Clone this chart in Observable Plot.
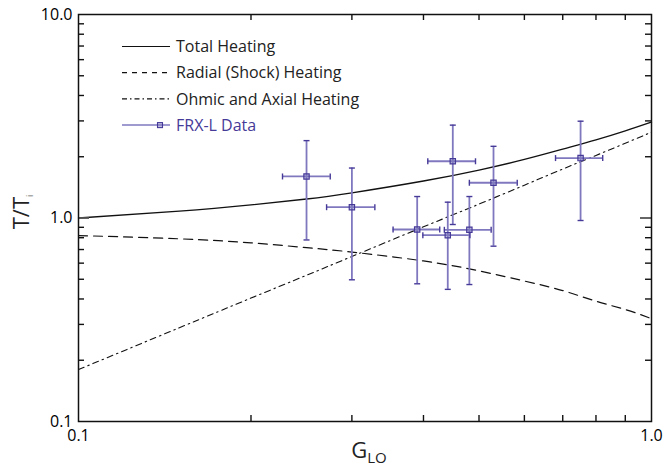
<!DOCTYPE html>
<html>
<head>
<meta charset="utf-8">
<script src="https://cdn.jsdelivr.net/npm/d3@7"></script>
<script src="https://cdn.jsdelivr.net/npm/@observablehq/plot@0.6"></script>
<style>
  html, body { margin: 0; padding: 0; background: #fff; }
  #chart svg { display: block; }
</style>
</head>
<body>
<div id="chart"></div>
<script>
// ---- Model curves ----
const gCurve = [0.1, 0.15, 0.2, 0.25, 0.3, 0.4, 0.5, 0.6, 0.7, 0.8, 0.9, 1.0];
const totalHeating = [1.00, 1.08, 1.16, 1.24, 1.33, 1.52, 1.72, 1.94, 2.18, 2.42, 2.68, 2.96];
const radialHeating = [0.82, 0.79, 0.755, 0.715, 0.68, 0.615, 0.55, 0.49, 0.44, 0.39, 0.355, 0.32];
const ohmicHeating = [0.18, 0.289, 0.404, 0.523, 0.647, 0.905, 1.17, 1.45, 1.74, 2.03, 2.33, 2.64];

// ---- FRX-L data with error bars ----
const gData = [0.250, 0.300, 0.390, 0.441, 0.481, 0.450, 0.530, 0.752];
const gLow  = [0.227, 0.271, 0.354, 0.399, 0.435, 0.407, 0.481, 0.680];
const gHigh = [0.275, 0.329, 0.427, 0.482, 0.525, 0.493, 0.583, 0.822];
const tData = [1.60, 1.13, 0.878, 0.823, 0.875, 1.90, 1.49, 1.97];
const tLow  = [0.78, 0.497, 0.475, 0.446, 0.471, 0.929, 0.727, 0.972];
const tHigh = [2.40, 1.76, 1.275, 1.196, 1.275, 2.86, 2.25, 2.99];

// ---- Ticks ----
const xTickLabels = [0.1, 1.0];
const yTickLabels = [0.1, 1.0, 10.0];
const xMinorTicks = [0.2, 0.3, 0.4, 0.5, 0.6, 0.7, 0.8, 0.9];
const yMinorTicks = [0.2, 0.3, 0.4, 0.5, 0.6, 0.7, 0.8, 0.9, 2, 3, 4, 5, 6, 7, 8, 9];
const yMajorTicks = [1.0];
const xDomain = [0.1, 1.0];
const yDomain = [0.1, 10.0];

const curves = gCurve.map((g, i) => ({g, total: totalHeating[i], radial: radialHeating[i], ohmic: ohmicHeating[i]}));
const points = gData.map((g, i) => ({g, gLo: gLow[i], gHi: gHigh[i], t: tData[i], tLo: tLow[i], tHi: tHigh[i]}));

const W = 665, H = 470;
const mL = 78, mR = 14, mT = 14, mB = 49;
const PW = W - mL - mR, PH = H - mT - mB;

const purple = "#463a98";
const barColor = "#7f78bf";
const FONT = "'Open Sans', 'DejaVu Sans', sans-serif";

const capH = {draw(ctx, size) { const r = Math.sqrt(size / Math.PI); ctx.moveTo(-r, 0); ctx.lineTo(r, 0); }};
const capV = {draw(ctx, size) { const r = Math.sqrt(size / Math.PI); ctx.moveTo(0, -r); ctx.lineTo(0, r); }};

const tickStyle = {stroke: "#111", strokeWidth: 1.4};

const chart = Plot.plot({
  width: W, height: H,
  marginLeft: mL, marginRight: mR, marginTop: mT, marginBottom: mB,
  style: {fontFamily: FONT, fontSize: "16px"},
  x: {type: "log", domain: xDomain, label: null},
  y: {type: "log", domain: yDomain, label: null},
  marks: [
    // model curves
    Plot.line(curves, {x: "g", y: "total", curve: "natural", stroke: "#111", strokeWidth: 1.3}),
    Plot.line(curves, {x: "g", y: "radial", curve: "natural", stroke: "#111", strokeWidth: 1.2, strokeDasharray: "9,6"}),
    Plot.line(curves, {x: "g", y: "ohmic", curve: "natural", stroke: "#111", strokeWidth: 1.1, strokeDasharray: "6,4,1.5,4"}),
    // error bars
    Plot.ruleX(points, {x: "g", y1: "tLo", y2: "tHi", stroke: barColor, strokeWidth: 1.8}),
    Plot.ruleY(points, {y: "t", x1: "gLo", x2: "gHi", stroke: barColor, strokeWidth: 1.8}),
    Plot.dot(points, {x: "g", y: "tHi", symbol: capH, r: 3, stroke: purple, strokeWidth: 1.4}),
    Plot.dot(points, {x: "g", y: "tLo", symbol: capH, r: 3, stroke: purple, strokeWidth: 1.4}),
    Plot.dot(points, {x: "gLo", y: "t", symbol: capV, r: 3, stroke: purple, strokeWidth: 1.4}),
    Plot.dot(points, {x: "gHi", y: "t", symbol: capV, r: 3, stroke: purple, strokeWidth: 1.4}),
    Plot.dot(points, {x: "g", y: "t", symbol: "square", r: 3, stroke: purple, strokeWidth: 1.2, fill: barColor, fillOpacity: 0.45}),
    // inward ticks on all four sides
    Plot.ruleX(xMinorTicks, {x: d => d, insetTop: PH - 6, ...tickStyle}),
    Plot.ruleX(xMinorTicks, {x: d => d, insetBottom: PH - 6, ...tickStyle}),
    Plot.ruleY(yMinorTicks, {y: d => d, insetRight: PW - 6, ...tickStyle}),
    Plot.ruleY(yMinorTicks, {y: d => d, insetLeft: PW - 6, ...tickStyle}),
    Plot.ruleY(yMajorTicks, {y: d => d, insetRight: PW - 11, stroke: "#555", strokeWidth: 1.8}),
    Plot.ruleY(yMajorTicks, {y: d => d, insetLeft: PW - 11, stroke: "#555", strokeWidth: 1.8}),
    // axes
    Plot.axisX({ticks: xTickLabels, tickFormat: d => d.toFixed(1), tickSize: 0, tickPadding: 8, label: null}),
    Plot.axisY({ticks: yTickLabels, tickFormat: d => d.toFixed(1), tickSize: 0, tickPadding: 6, label: null}),
    Plot.frame({stroke: "#111", strokeWidth: 1.5})
  ]
});

document.getElementById("chart").appendChild(chart);

// ---- Legend and axis titles ----
const svg = d3.select(chart);
const legendItems = [
  {label: "Total Heating", dash: null, color: "#111"},
  {label: "Radial (Shock) Heating", dash: "5,5", color: "#111"},
  {label: "Ohmic and Axial Heating", dash: "5,3,1.5,3", color: "#111"},
  {label: "FRX-L Data", dash: null, color: purple, marker: true}
];
const lg = svg.append("g").attr("font-family", FONT).attr("font-size", 16).attr("text-anchor", "start");
legendItems.forEach((d, i) => {
  const y = 46.5 + i * 26.2;
  lg.append("line").attr("x1", 122).attr("x2", 170).attr("y1", y).attr("y2", y)
    .attr("stroke", d.marker ? barColor : d.color).attr("stroke-width", d.marker ? 1.5 : 1.2)
    .attr("stroke-dasharray", d.dash);
  if (d.marker) {
    lg.append("rect").attr("x", 157.5).attr("y", y - 2.5).attr("width", 5).attr("height", 5)
      .attr("fill", barColor).attr("fill-opacity", 0.45).attr("stroke", purple).attr("stroke-width", 1.1);
  }
  lg.append("text").attr("x", 176).attr("y", y).attr("dy", "0.35em").attr("text-anchor", "start")
    .attr("fill", d.marker ? purple : "#222").text(d.label);
});

const yt = svg.append("text").attr("transform", "translate(29,212) rotate(-90)")
  .attr("text-anchor", "middle").attr("font-family", FONT).attr("font-size", 22).attr("fill", "#222");
yt.append("tspan").text("T/T");
yt.append("tspan").attr("font-size", 9).attr("dy", 4).attr("fill", "#666").text("i");

const xt = svg.append("text").attr("x", 369).attr("y", 458)
  .attr("text-anchor", "middle").attr("font-family", FONT).attr("font-size", 22).attr("fill", "#222");
xt.append("tspan").text("G");
xt.append("tspan").attr("font-size", 15).attr("dy", 5).text("LO");
</script>
</body>
</html>
